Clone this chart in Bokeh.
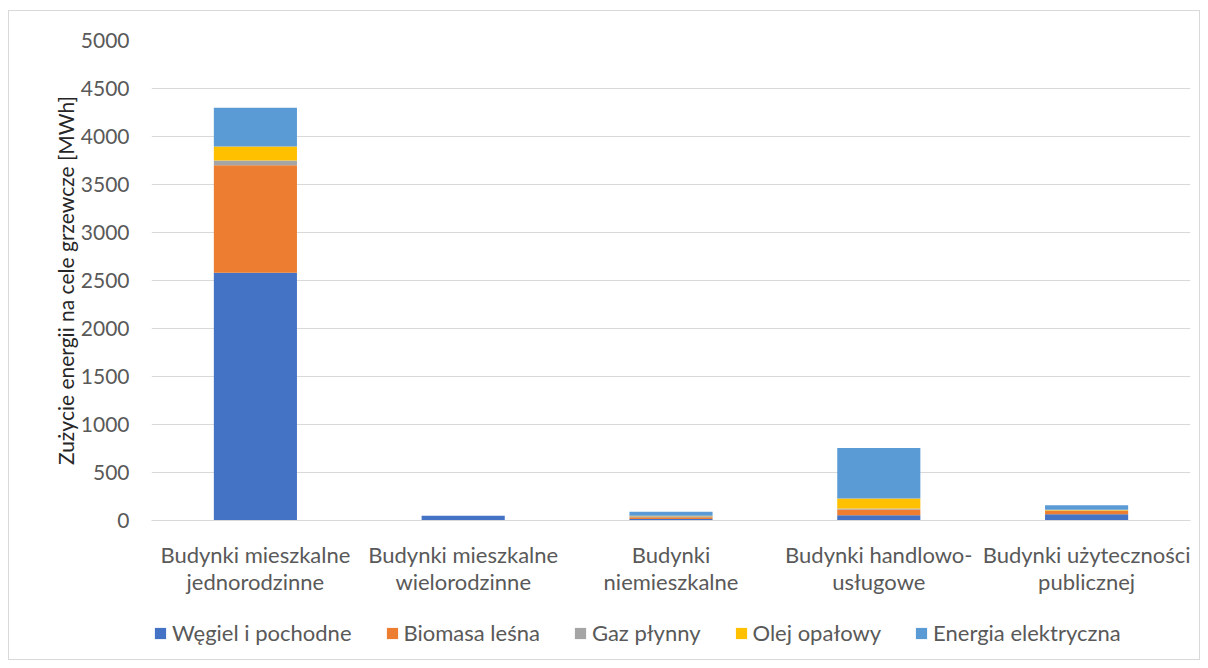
from bokeh.plotting import figure
from bokeh.layouts import column
from bokeh.models import ColumnDataSource, Legend, FixedTicker, Range1d
from bokeh.embed import file_html
from bokeh.resources import INLINE

categories = ["Budynki mieszkalne\njednorodzinne", "Budynki mieszkalne\nwielorodzinne",
              "Budynki\nniemieszkalne", "Budynki handlowo-\nusługowe",
              "Budynki użyteczności\npublicznej"]
series = ["Węgiel i pochodne", "Biomasa leśna", "Gaz płynny", "Olej opałowy", "Energia elektryczna"]
wegiel = [2580, 50, 15, 55, 65]
biomasa = [1120, 0, 20, 60, 35]
gaz = [50, 0, 10, 10, 5]
olej = [145, 0, 5, 104, 8]
energia = [405, 0, 40, 525, 45]
colors = ["#4472C4", "#ED7D31", "#A5A5A5", "#FFC000", "#5B9BD5"]
yticks = list(range(0, 5001, 500))

FONT = "Lato"
x = list(range(len(categories)))
cols = ["s0", "s1", "s2", "s3", "s4"]
source = ColumnDataSource(dict(x=x, s0=wegiel, s1=biomasa, s2=gaz, s3=olej, s4=energia))

p = figure(frame_width=1039, frame_height=480, output_backend="svg", toolbar_location=None,
           x_range=Range1d(-0.5, 4.5), y_range=Range1d(0, 5000),
           min_border_left=142, min_border_right=9, min_border_top=29, min_border_bottom=85)
p.outline_line_color = None

rs = p.vbar_stack(cols, x="x", width=0.4, color=colors, line_color=None, source=source)

p.xaxis.ticker = FixedTicker(ticks=x)
p.xaxis.major_label_overrides = {i: c for i, c in enumerate(categories)}
p.xaxis.major_tick_line_color = None
p.xaxis.minor_tick_line_color = None
p.xaxis.axis_line_color = "#d9d9d9"
p.xaxis.axis_line_width = 1
p.xaxis.major_label_text_font = FONT
p.xaxis.major_label_text_font_size = "22px"
p.xaxis.major_label_text_color = "#595959"
p.xaxis.major_label_text_line_height = 1.0
p.xaxis.major_label_standoff = 14

p.yaxis.ticker = FixedTicker(ticks=yticks)
p.yaxis.major_tick_line_color = None
p.yaxis.minor_tick_line_color = None
p.yaxis.axis_line_color = None
p.yaxis.major_label_text_font = FONT
p.yaxis.major_label_text_font_size = "21px"
p.yaxis.major_label_text_color = "#595959"
p.yaxis.major_label_standoff = 16
p.yaxis.axis_label = "Zużycie energii na cele grzewcze [MWh]"
p.yaxis.axis_label_text_font = FONT
p.yaxis.axis_label_text_font_size = "21px"
p.yaxis.axis_label_text_font_style = "normal"
p.yaxis.axis_label_text_color = "#262626"
p.yaxis.axis_label_standoff = 0

p.xgrid.grid_line_color = None
p.ygrid.grid_line_color = "#d9d9d9"
p.ygrid.grid_line_width = 1

# legend strip below the chart (hidden copies of the bars feed the legend swatches)
lf = figure(width=1190, height=54, output_backend="svg", toolbar_location=None,
            x_range=Range1d(-0.5, 4.5), y_range=Range1d(0, 5000),
            min_border_left=0, min_border_right=0, min_border_top=0, min_border_bottom=0)
lf.axis.visible = False
lf.grid.visible = False
lf.outline_line_color = None
hidden = lf.vbar_stack(cols, x="x", width=0.4, color=colors, line_color=None, source=source)
for r in hidden:
    r.visible = False
legend = Legend(items=[(s, [r]) for s, r in zip(series, hidden)], orientation="horizontal",
                location=(2, 13), border_line_color=None, background_fill_alpha=0,
                label_text_font=FONT, label_text_font_size="22px", label_text_color="#595959",
                glyph_width=14, glyph_height=14, spacing=33, label_standoff=5, padding=0, margin=0,
                inactive_fill_alpha=0, click_policy="none")
lf.add_layout(legend, "center")

layout = column(p, lf, spacing=0)
layout.styles = {"border": "1px solid #d9d9d9", "margin-left": "8px", "margin-top": "10px"}

open("out.html", "w").write(file_html(layout, INLINE))
